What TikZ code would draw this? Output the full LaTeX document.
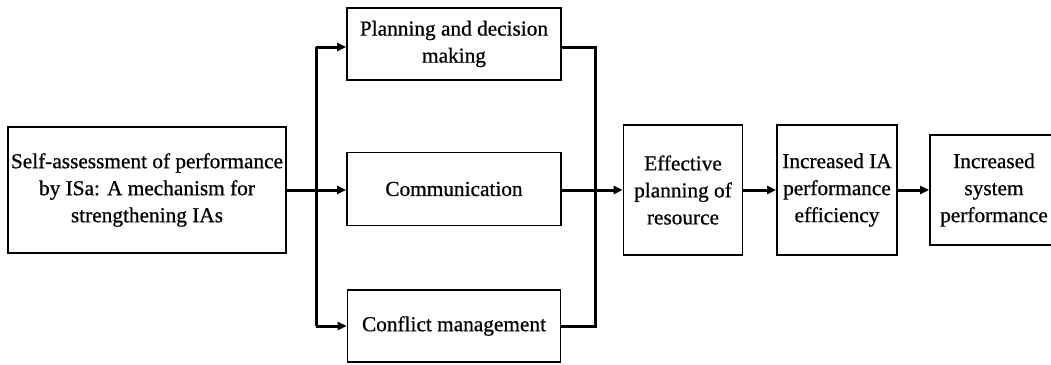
\documentclass[tikz,border=0pt]{standalone}
\usepackage{fontspec}
\setmainfont{Liberation Serif}
\newfontfamily\heavyserif{Liberation Serif}[FakeBold=0.7]
\usetikzlibrary{arrows.meta}
\begin{document}
\begin{tikzpicture}[x=1pt,y=-1pt,
  box/.style={draw,line width=1.8pt,align=center,inner sep=2pt,
    font=\heavyserif\fontsize{21.3}{27}\selectfont},
  wire/.style={line width=3pt},
  arr/.style={wire,-{Triangle[length=9pt,width=8pt]}}]
\useasboundingbox (0,0) rectangle (1051,364);
% boxes
\node[box,minimum width=278pt,minimum height=126pt] (self) at (147,190)
  {Self-assessment of performance\\by ISa: A mechanism for\\strengthening IAs};
\node[box,minimum width=214pt,minimum height=72pt] (plan) at (454,44)
  {Planning and decision\\making};
\node[box,minimum width=214pt,minimum height=73pt] (comm) at (454,189)
  {Communication};
\node[box,minimum width=213pt,minimum height=72pt] (conf) at (454,326)
  {Conflict management};
\node[box,minimum width=119pt,minimum height=130pt] (eff) at (683,190)
  {Effective\\planning of\\resource};
\node[box,minimum width=120pt,minimum height=130pt] (ia) at (837,190)
  {Increased IA\\performance\\efficiency};
\node[box,minimum width=128pt,minimum height=110pt] (sys) at (994,190)
  {Increased\\system\\performance};
% split bus
\coordinate (lt) at (316,47);
\coordinate (lm) at (316,190);
\coordinate (lb) at (316,326);
\draw[wire] (lt) -- (lb);
\draw[wire] (self.east |- lm) -- (lm);
\draw[arr] (lt) -- (plan.west |- lt);
\draw[arr] (lm) -- (comm.west |- lm);
\draw[arr] (lb) -- (conf.west |- lb);
% merge bus
\coordinate (rt) at (595,47);
\coordinate (rm) at (595,190);
\coordinate (rb) at (595,326);
\draw[wire] (plan.east |- rt) -- (rt) -- (rb) -- (conf.east |- rb);
\draw[wire] (comm.east |- rm) -- (rm);
\draw[arr] (rm) -- (eff.west |- rm);
% chain
\draw[arr] (eff) -- (ia);
\draw[arr] (ia) -- (sys);
\end{tikzpicture}
\end{document}
